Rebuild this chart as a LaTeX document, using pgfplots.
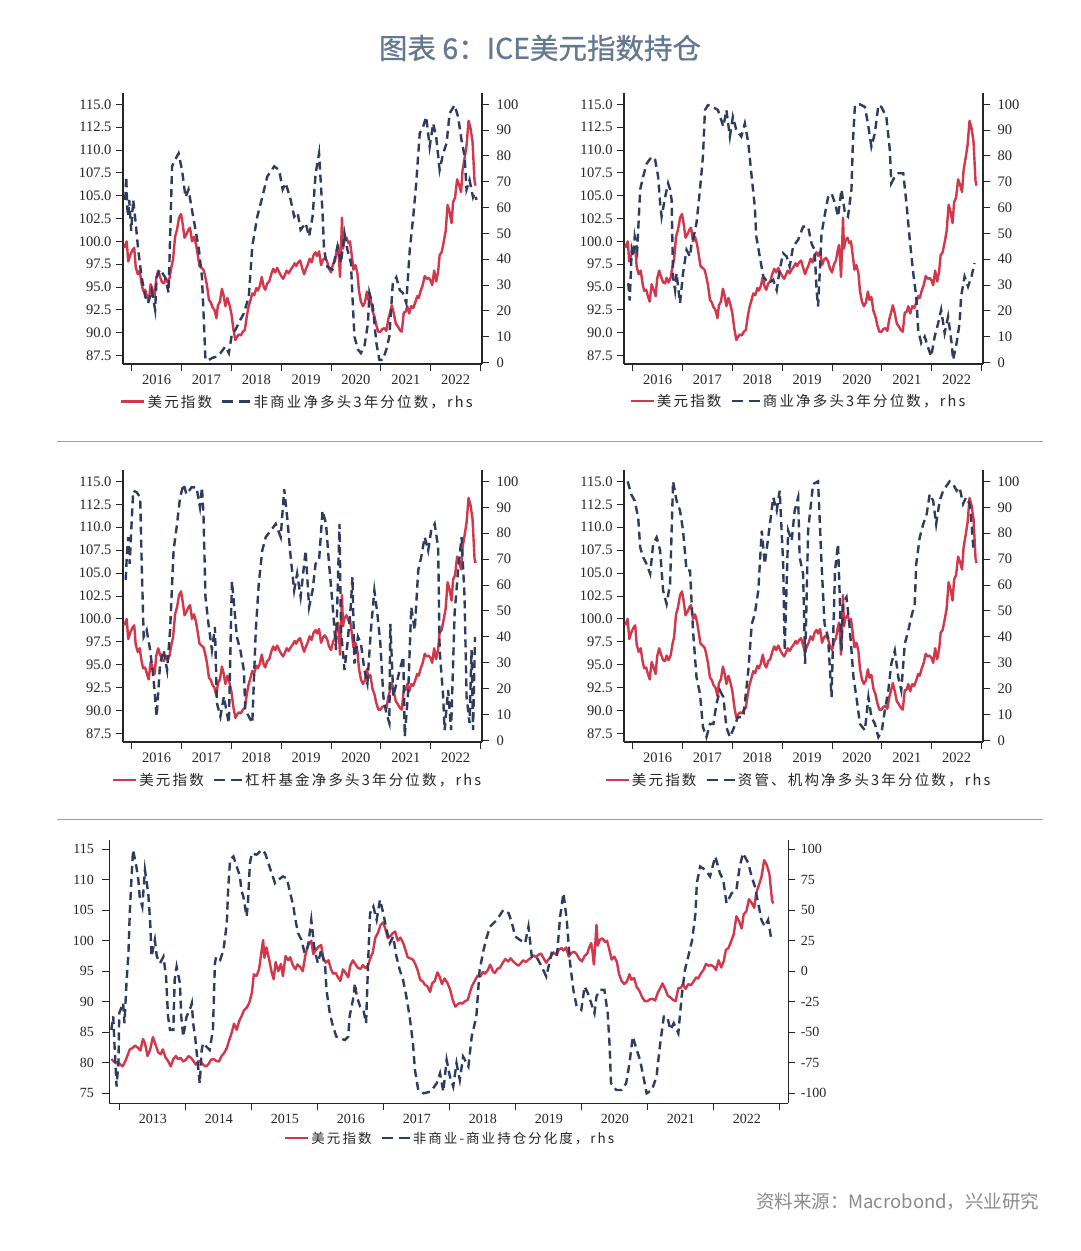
\documentclass[border=0pt]{standalone}
\usepackage{pgfplots}
\pgfplotsset{compat=1.18}
\usepackage{pgfplotstable}
\usepackage{fontspec}
\setmainfont{Liberation Serif}
\newfontfamily\cjk{Noto Sans CJK SC}
\newfontfamily\cjktitle{Noto Sans CJK SC}[FakeBold=0.8]
\newfontfamily\cjkleg{Noto Sans CJK SC}[LetterSpace=15]
\definecolor{usdred}{HTML}{D2374B}
\definecolor{navy}{HTML}{2D3C5F}
\definecolor{titlecol}{HTML}{647891}
\definecolor{srccol}{HTML}{8A8A8A}

\pgfplotstableread{
t v
2012.87 80.6
2012.90 80.3
2012.94 79.9
2012.97 80.1
2013.00 79.8
2013.04 79.4
2013.08 80.2
2013.12 81.3
2013.15 82.2
2013.19 82.4
2013.23 82.8
2013.27 82.5
2013.31 82.0
2013.35 83.9
2013.38 83.2
2013.42 81.1
2013.46 82.2
2013.50 84.2
2013.54 83.0
2013.58 81.7
2013.62 81.4
2013.65 82.2
2013.69 80.9
2013.73 80.3
2013.77 79.4
2013.81 80.6
2013.85 81.1
2013.88 80.6
2013.92 80.8
2013.96 80.2
2014.00 80.5
2014.04 81.1
2014.08 80.8
2014.12 80.2
2014.15 79.7
2014.19 80.3
2014.23 80.1
2014.27 79.6
2014.31 79.4
2014.35 79.9
2014.38 80.5
2014.42 80.6
2014.46 80.3
2014.50 80.2
2014.54 81.1
2014.58 81.6
2014.62 82.4
2014.65 83.5
2014.69 84.8
2014.73 86.4
2014.77 85.4
2014.81 86.9
2014.85 87.8
2014.88 88.6
2014.92 89.0
2014.96 89.8
2015.00 91.5
2015.03 94.5
2015.07 94.2
2015.11 95.4
2015.14 97.8
2015.17 100.1
2015.19 97.2
2015.22 98.9
2015.26 97.0
2015.30 94.8
2015.33 93.7
2015.36 96.5
2015.40 95.0
2015.44 96.2
2015.47 94.2
2015.51 97.5
2015.55 96.8
2015.58 97.3
2015.62 96.0
2015.66 95.3
2015.69 96.1
2015.73 95.7
2015.77 95.0
2015.81 97.6
2015.85 99.3
2015.90 100.0
2015.93 97.8
2015.97 98.5
2016.01 99.0
2016.05 99.3
2016.08 97.2
2016.12 96.4
2016.16 96.8
2016.20 95.3
2016.23 94.6
2016.27 94.7
2016.31 93.9
2016.34 93.4
2016.38 95.3
2016.42 94.7
2016.46 94.0
2016.49 95.9
2016.53 96.8
2016.57 96.1
2016.61 95.5
2016.65 95.4
2016.68 96.0
2016.72 95.5
2016.76 96.0
2016.80 97.3
2016.83 98.0
2016.87 100.5
2016.91 101.3
2016.95 102.6
2016.99 103.0
2017.02 102.0
2017.06 100.4
2017.10 100.8
2017.14 101.3
2017.17 101.5
2017.21 100.0
2017.25 100.5
2017.29 99.7
2017.32 98.7
2017.36 97.3
2017.40 97.1
2017.44 96.9
2017.47 96.3
2017.51 95.2
2017.55 93.6
2017.59 93.3
2017.62 92.8
2017.66 92.5
2017.70 91.6
2017.73 93.0
2017.77 93.4
2017.81 94.8
2017.84 94.2
2017.88 92.9
2017.92 93.8
2017.96 93.1
2018.00 92.1
2018.04 90.4
2018.08 89.2
2018.12 89.6
2018.15 89.8
2018.19 89.7
2018.23 90.1
2018.27 90.3
2018.31 91.8
2018.34 92.7
2018.38 93.5
2018.42 94.3
2018.46 94.1
2018.50 94.9
2018.53 94.6
2018.57 95.1
2018.61 96.1
2018.65 95.0
2018.68 94.7
2018.72 95.4
2018.76 95.6
2018.80 96.4
2018.84 97.0
2018.88 96.6
2018.92 97.1
2018.96 96.6
2019.00 96.2
2019.04 95.9
2019.08 96.4
2019.11 96.8
2019.15 96.5
2019.19 96.9
2019.23 97.2
2019.27 97.6
2019.30 97.3
2019.34 97.7
2019.38 97.9
2019.42 97.1
2019.46 96.4
2019.49 96.9
2019.53 97.4
2019.57 98.1
2019.61 97.7
2019.65 98.5
2019.69 98.8
2019.72 98.4
2019.76 98.9
2019.80 97.4
2019.84 98.0
2019.88 98.2
2019.92 97.8
2019.96 97.0
2020.00 96.6
2020.04 97.5
2020.08 97.9
2020.11 98.9
2020.14 99.6
2020.16 98.2
2020.18 96.1
2020.20 99.0
2020.22 102.6
2020.24 99.2
2020.27 100.1
2020.31 100.4
2020.35 99.8
2020.38 100.0
2020.42 98.3
2020.45 96.9
2020.49 97.4
2020.53 96.5
2020.56 94.6
2020.60 93.4
2020.64 92.9
2020.68 93.3
2020.72 94.5
2020.75 93.6
2020.79 93.9
2020.83 92.4
2020.87 91.8
2020.91 90.8
2020.95 90.1
2020.99 90.1
2021.03 90.4
2021.07 90.5
2021.11 90.2
2021.15 91.5
2021.19 92.3
2021.22 93.0
2021.26 92.1
2021.30 91.0
2021.34 90.7
2021.38 90.3
2021.42 90.1
2021.46 92.2
2021.50 92.3
2021.53 92.9
2021.57 92.1
2021.61 92.9
2021.65 92.7
2021.69 93.3
2021.73 94.0
2021.76 93.8
2021.80 94.6
2021.84 95.2
2021.88 96.2
2021.92 95.9
2021.96 96.0
2022.00 95.7
2022.03 95.2
2022.07 96.8
2022.11 95.6
2022.15 96.7
2022.18 98.5
2022.22 98.8
2022.26 99.9
2022.30 101.1
2022.34 104.0
2022.38 103.2
2022.42 102.0
2022.45 104.3
2022.49 104.8
2022.53 106.8
2022.57 106.2
2022.61 105.4
2022.64 107.8
2022.68 109.1
2022.72 110.5
2022.76 113.2
2022.80 112.4
2022.84 110.9
2022.88 106.6
2022.90 106.1
}\dxy

\pgfplotstableread{
t v
2015.87 63
2015.89 72
2015.91 60
2015.93 56.5
2015.95 63
2015.99 51
2016.03 63
2016.08 54
2016.13 43.6
2016.20 33
2016.27 25.5
2016.33 23
2016.40 28
2016.47 20.4
2016.50 33
2016.57 36
2016.67 33
2016.74 27
2016.81 76
2016.87 78.5
2016.94 81
2017.01 74.5
2017.08 64
2017.14 67
2017.21 59
2017.28 51.4
2017.35 43.6
2017.41 33
2017.45 15
2017.48 1
2017.55 1
2017.61 1.7
2017.71 2.3
2017.78 3.6
2017.88 6.2
2017.95 3.6
2018.01 11
2018.08 12.6
2018.18 16.5
2018.25 19
2018.35 25.5
2018.42 45
2018.52 56.5
2018.62 64
2018.72 72
2018.86 76
2018.96 74.5
2019.03 67
2019.09 69.5
2019.19 63
2019.26 56.5
2019.33 58
2019.39 51.4
2019.49 54
2019.56 48.8
2019.63 56.5
2019.69 73
2019.76 81
2019.83 58
2019.86 43.6
2019.93 37
2020.03 36
2020.13 45
2020.20 38.5
2020.27 50
2020.33 43.6
2020.40 38.5
2020.43 25.5
2020.47 10
2020.54 5
2020.60 3.6
2020.67 6.2
2020.74 15
2020.77 27
2020.84 21.7
2020.91 7.5
2020.97 1
2021.04 1
2021.11 5
2021.17 10
2021.24 30.7
2021.31 33
2021.38 28
2021.44 27
2021.51 23
2021.58 43.6
2021.65 56.5
2021.71 69.5
2021.78 88.8
2021.85 91.4
2021.91 95.2
2021.98 83.6
2022.05 92.6
2022.11 87.5
2022.18 74.6
2022.25 81
2022.32 85
2022.38 96.5
2022.48 99.7
2022.55 95.2
2022.62 86
2022.68 80
2022.72 67
2022.78 70.7
2022.85 64
2022.88 65.5
2022.92 63
}\nc

\pgfplotstableread{
t v
2015.91 30.7
2015.94 24
2015.98 43.6
2016.01 41
2016.04 48.8
2016.09 43.6
2016.15 67
2016.21 72
2016.28 77
2016.38 79.7
2016.45 78.5
2016.51 72
2016.55 61.7
2016.58 56.5
2016.65 64
2016.71 69.4
2016.75 67
2016.78 63
2016.81 33
2016.85 28
2016.88 34.6
2016.91 29.4
2016.95 23
2017.01 34.6
2017.08 43.6
2017.15 41
2017.18 46
2017.21 47.5
2017.28 54
2017.35 67
2017.41 80
2017.45 97.8
2017.51 99.7
2017.61 99
2017.71 97.8
2017.82 91.4
2017.88 97.8
2017.95 87.5
2018.01 95.2
2018.08 90
2018.18 87.5
2018.25 92.6
2018.32 85
2018.38 73.3
2018.45 60.4
2018.48 48.8
2018.55 41
2018.62 33.3
2018.72 30.7
2018.82 32
2018.89 28
2018.95 36
2019.02 42.3
2019.09 41
2019.15 37.2
2019.22 45
2019.32 47.5
2019.42 52.6
2019.52 52.6
2019.59 46
2019.65 43.6
2019.69 28
2019.72 21.7
2019.76 37.2
2019.79 50
2019.86 57.8
2019.92 64
2019.99 65.5
2020.06 61.7
2020.12 56.5
2020.19 67
2020.26 57.8
2020.32 56.5
2020.39 67
2020.42 86
2020.46 99.7
2020.56 100
2020.66 99
2020.72 92.6
2020.79 83.6
2020.86 88.8
2020.93 99.7
2020.99 99
2021.09 95.2
2021.16 82.3
2021.19 69.4
2021.26 72
2021.33 73.3
2021.43 73.3
2021.50 60.4
2021.56 47.5
2021.63 34.6
2021.69 25.5
2021.73 12.6
2021.79 7.5
2021.86 10
2021.92 6.2
2021.99 2.3
2022.06 10
2022.13 15.2
2022.19 20.4
2022.26 11.4
2022.33 17.8
2022.40 7.5
2022.43 1
2022.50 7.5
2022.56 15.2
2022.59 25.5
2022.66 33.3
2022.73 29.4
2022.80 33.3
2022.86 38.5
}\com

\pgfplotstableread{
t v
2015.88 62
2015.90 70.8
2015.93 78.5
2015.96 68.2
2015.99 81
2016.03 96.4
2016.10 95.8
2016.17 93.8
2016.20 68.2
2016.24 40
2016.30 42.6
2016.37 34.9
2016.44 23.3
2016.50 9.2
2016.57 29.7
2016.64 34.9
2016.71 27.2
2016.77 42.6
2016.84 73.3
2016.91 83.6
2016.97 93.8
2017.04 99
2017.10 95
2017.20 97.7
2017.30 97.7
2017.37 90
2017.41 97.7
2017.44 87.4
2017.48 55.4
2017.54 45
2017.61 34.9
2017.67 43.8
2017.71 14.4
2017.78 9.2
2017.85 17
2017.91 10.5
2017.95 6.7
2018.01 61.5
2018.04 55.4
2018.11 40
2018.18 34.9
2018.25 27.2
2018.28 11.8
2018.35 9.2
2018.42 6.7
2018.49 42.6
2018.55 60.5
2018.62 73.3
2018.69 78.5
2018.79 81
2018.89 83.6
2018.99 78.5
2019.06 97
2019.12 86.2
2019.19 70.8
2019.26 57.9
2019.32 64.4
2019.39 55.4
2019.49 73.3
2019.56 51.5
2019.63 57.9
2019.69 68.2
2019.76 69.5
2019.83 88.7
2019.90 83.6
2019.96 68.2
2020.03 52.8
2020.10 34.9
2020.17 83.6
2020.20 42.6
2020.27 27.2
2020.33 37.4
2020.40 52.8
2020.43 63
2020.47 29.7
2020.54 40
2020.60 37.4
2020.67 27.2
2020.73 22
2020.80 42.6
2020.87 57.9
2020.93 49
2020.99 37.4
2021.05 17
2021.11 10.5
2021.17 6.7
2021.19 45
2021.25 17
2021.38 27.2
2021.45 32.3
2021.48 1.5
2021.55 19.3
2021.61 51.5
2021.68 42.6
2021.75 65.6
2021.81 70.8
2021.88 78.5
2021.95 73.3
2022.01 81
2022.08 83.6
2022.15 74.6
2022.18 34.9
2022.25 17
2022.28 4
2022.35 19.5
2022.41 4
2022.48 49
2022.55 65.6
2022.62 78.5
2022.68 55.4
2022.72 17
2022.78 6.7
2022.82 34.9
2022.85 4
2022.89 40
}\lev

\pgfplotstableread{
t v
2015.90 100
2015.97 95
2016.04 92.5
2016.11 86
2016.15 74.5
2016.21 70.7
2016.28 68
2016.35 64.3
2016.41 75.8
2016.48 78.4
2016.55 73.3
2016.61 57.8
2016.68 52.7
2016.75 60.4
2016.81 100
2016.88 92.5
2016.95 88.7
2017.01 81
2017.08 65.6
2017.15 65.6
2017.21 42.4
2017.28 24.4
2017.35 18
2017.41 5.1
2017.48 1.3
2017.55 6.4
2017.62 6.4
2017.68 14.1
2017.75 19.3
2017.82 16.7
2017.88 5.1
2017.95 1.3
2018.01 3.9
2018.11 9
2018.22 9
2018.32 27
2018.39 45
2018.45 48.8
2018.52 57.8
2018.59 81
2018.65 68.1
2018.72 78.4
2018.82 93.8
2018.89 88.7
2018.95 96.4
2019.02 68.1
2019.05 34.7
2019.12 81
2019.19 77.1
2019.25 88.7
2019.32 93.8
2019.35 70.7
2019.42 64.3
2019.46 29.6
2019.49 55.3
2019.52 81
2019.62 99
2019.72 100
2019.79 68.1
2019.85 45
2019.92 39.8
2019.99 16.7
2020.06 65.6
2020.12 75.8
2020.19 34.7
2020.22 52.7
2020.29 55.3
2020.36 42.4
2020.43 24.4
2020.49 16.7
2020.56 6.4
2020.66 3.9
2020.73 16.7
2020.79 9
2020.86 6.4
2020.93 1.3
2021.00 3.9
2021.06 11.6
2021.13 19.3
2021.19 29.6
2021.26 34.7
2021.33 24.4
2021.39 19.3
2021.46 37.3
2021.53 42.4
2021.59 47.6
2021.66 52.7
2021.69 68.1
2021.76 78.4
2021.83 83.5
2021.90 87.4
2021.96 95.1
2022.03 92.5
2022.09 83.5
2022.16 92.5
2022.23 96.4
2022.36 100
2022.43 99
2022.50 96.4
2022.56 97.7
2022.63 91.3
2022.69 93.8
2022.76 91.3
2022.79 86.1
2022.84 73.3
}\am

\pgfplotstableread{
t v
2012.87 -48
2012.90 -37
2012.92 -61.7
2012.95 -94.5
2012.98 -72.7
2012.99 -34.4
2013.05 -26
2013.07 -42.6
2013.10 -9.8
2013.13 14.8
2013.15 47.5
2013.18 80.3
2013.20 99.5
2013.25 85.8
2013.28 74.9
2013.30 61.2
2013.34 53
2013.38 83
2013.43 64
2013.46 39.3
2013.48 12
2013.53 25.7
2013.56 12
2013.61 6.6
2013.66 12
2013.70 -4.4
2013.73 -37.2
2013.76 -48
2013.81 -48
2013.83 -7.1
2013.86 3.8
2013.91 -9.8
2013.93 -37.2
2013.96 -53.6
2014.01 -37.2
2014.06 -31.7
2014.09 -26.2
2014.11 -42.6
2014.14 -53.6
2014.16 -64.5
2014.19 -80.9
2014.21 -91.8
2014.24 -64.5
2014.26 -59
2014.31 -61.7
2014.36 -64.5
2014.41 -48
2014.44 6.6
2014.46 12
2014.52 9.3
2014.57 17.5
2014.62 39.3
2014.64 66.7
2014.67 91.3
2014.72 94
2014.77 85.8
2014.82 77.6
2014.84 66.7
2014.87 61.2
2014.92 44.8
2014.94 55.7
2014.97 88.5
2015.00 96.7
2015.07 95.4
2015.15 99.5
2015.20 96.7
2015.25 88.5
2015.30 80.3
2015.35 72.1
2015.40 74.9
2015.47 77.6
2015.53 76.2
2015.58 64
2015.63 53
2015.65 44.8
2015.70 31.1
2015.75 25.7
2015.80 14.8
2015.85 20.2
2015.90 42
2015.95 17.5
2016.00 6.6
2016.05 17.5
2016.11 3.8
2016.13 -15.3
2016.18 -34.4
2016.23 -45.4
2016.28 -53.6
2016.33 -55
2016.41 -56.3
2016.46 -53.6
2016.48 -37.2
2016.54 -20.8
2016.56 -9.8
2016.59 -20.8
2016.64 -29
2016.69 -31.7
2016.73 -42.6
2016.76 6.6
2016.79 47.5
2016.84 53
2016.89 42
2016.94 58.5
2016.99 47.5
2017.04 33.9
2017.09 23
2017.14 28.4
2017.19 12
2017.24 1.1
2017.29 -7.1
2017.34 -20.8
2017.39 -37.2
2017.44 -59
2017.47 -80.9
2017.52 -97.3
2017.60 -100
2017.71 -98.6
2017.80 -91.8
2017.85 -83.6
2017.90 -98.6
2017.95 -72.7
2018.00 -86.3
2018.05 -94.5
2018.10 -75.4
2018.15 -89.1
2018.20 -70
2018.28 -78.1
2018.33 -53.6
2018.40 -37.2
2018.45 1.1
2018.51 17.5
2018.56 28.4
2018.61 36.6
2018.71 42
2018.81 50.3
2018.89 47.5
2018.94 39.3
2018.99 28.4
2019.06 25.7
2019.14 23
2019.19 36.6
2019.24 12
2019.31 12
2019.39 3.8
2019.46 -4.4
2019.54 14.8
2019.62 12
2019.67 44.8
2019.72 64
2019.77 42
2019.82 6.6
2019.87 -15.3
2019.92 -29
2019.99 -31.7
2020.04 -12.6
2020.09 -18
2020.14 -26.2
2020.19 -34.4
2020.22 -20.8
2020.27 -15.3
2020.34 -15.3
2020.39 -34.4
2020.42 -61.7
2020.44 -91.8
2020.52 -97.3
2020.60 -97.3
2020.67 -91.8
2020.72 -75.4
2020.77 -53.6
2020.83 -64.5
2020.88 -72.7
2020.93 -86.3
2020.98 -100
2021.06 -97.3
2021.13 -86.3
2021.18 -61.7
2021.24 -37.2
2021.29 -37.2
2021.34 -48
2021.39 -42.6
2021.46 -50.8
2021.51 -20.8
2021.56 1.1
2021.61 12
2021.67 25.7
2021.72 47.5
2021.74 72
2021.79 85.8
2021.87 83
2021.94 77.6
2022.02 94
2022.09 80.3
2022.14 74.9
2022.19 55.7
2022.27 64
2022.34 66.7
2022.39 85.8
2022.44 96.7
2022.52 88.5
2022.57 77.6
2022.62 69.4
2022.67 55.7
2022.72 42
2022.77 36.6
2022.82 42
2022.87 25.7
}\diff

\pgfplotsset{
  base/.style={
    scale only axis, anchor=south west,
    axis line style={line width=1.1pt, black!85},
    tick style={line width=1pt, black!85},
    major tick length=7pt,
    ticklabel style={font=\fontsize{14.5}{16}\selectfont, text=black!85},
    /pgf/number format/assume math mode=true,
  },
  lefttop/.style={base,
    width=359pt, height=271pt,
    xmin=2015.825, xmax=2023.03, ymin=86.57, ymax=116.25,
    axis x line*=bottom, axis y line*=left, tick align=outside,
    xtick={2016,2017,2018,2019,2020,2021,2022,2023},
    xticklabels={2016,2017,2018,2019,2020,2021,2022,{}},
    xticklabel style={xshift=24.9pt},
    ytick={87.5,90,92.5,95,97.5,100,102.5,105,107.5,110,112.5,115},
    yticklabel style={xshift=-1pt, /pgf/number format/.cd, fixed, fixed zerofill, precision=1},
  },
  righttop/.style={base,
    width=359pt, height=271pt,
    xmin=2015.825, xmax=2023.03, ymin=-0.6, ymax=104.4,
    axis x line=none, axis y line*=right, tick align=outside,
    ytick={0,10,...,100},
    yticklabel style={xshift=4pt},
    legend style={draw=none, fill=none, legend columns=-1, anchor=center,
      font=\cjkleg\fontsize{14.5}{17}\selectfont, text=black!85,
      /tikz/every even column/.append style={column sep=7pt},
      nodes={inner sep=2pt}},
  },
  usd/.style={usdred, line width=2.4pt, line join=round},
  pos/.style={navy, line width=2.4pt, dash pattern=on 8pt off 5pt},
  redimg/.style={usd, legend image code/.code={\draw[##1] (0pt,0pt) -- (23pt,0pt);}},
  dashimg/.style={legend image code/.code={\draw[##1, dash pattern=on 11pt off 6pt] (0pt,0pt) -- (28pt,0pt);}},
}

\begin{document}
\begin{tikzpicture}[x=1pt,y=1pt]
\fill[white] (0pt,0pt) rectangle (1080pt,1251pt);
\path[use as bounding box] (0pt,0pt) rectangle (1080pt,1251pt);

\node[font=\cjktitle\fontsize{28.5}{32}\selectfont, text=titlecol] at (540pt,1203pt) {图表 6：ICE美元指数持仓};

% ---------- Panel 1 ----------
\begin{axis}[lefttop, at={(123pt,887pt)}]
\addplot[usd, restrict x to domain=2015.84:2024] table[x=t,y=v] {\dxy};
\end{axis}
\begin{axis}[righttop, at={(123pt,887pt)}, legend style={at={(0.486,-0.139)}}]
\addlegendimage{redimg}
\addlegendentry{美元指数}
\addplot[pos, dashimg] table[x=t,y=v] {\nc};
\addlegendentry{非商业净多头3年分位数，rhs}
\end{axis}

% ---------- Panel 2 ----------
\begin{axis}[lefttop, at={(624pt,887pt)}]
\addplot[usd, restrict x to domain=2015.84:2024] table[x=t,y=v] {\dxy};
\end{axis}
\begin{axis}[righttop, at={(624pt,887pt)}, legend style={at={(0.486,-0.137)}}]
\addlegendimage{redimg}
\addlegendentry{美元指数}
\addplot[pos, dashimg] table[x=t,y=v] {\com};
\addlegendentry{商业净多头3年分位数，rhs}
\end{axis}

% ---------- Panel 3 ----------
\begin{axis}[lefttop, at={(123pt,509pt)}, height=272pt]
\addplot[usd, restrict x to domain=2015.84:2024] table[x=t,y=v] {\dxy};
\end{axis}
\begin{axis}[righttop, at={(123pt,509pt)}, height=272pt, legend style={at={(0.486,-0.14)}}]
\addlegendimage{redimg}
\addlegendentry{美元指数}
\addplot[pos, dashimg] table[x=t,y=v] {\lev};
\addlegendentry{杠杆基金净多头3年分位数，rhs}
\end{axis}

% ---------- Panel 4 ----------
\begin{axis}[lefttop, at={(624pt,509pt)}, height=272pt]
\addplot[usd, restrict x to domain=2015.84:2024] table[x=t,y=v] {\dxy};
\end{axis}
\begin{axis}[righttop, at={(624pt,509pt)}, height=272pt, legend style={at={(0.486,-0.14)}}]
\addlegendimage{redimg}
\addlegendentry{美元指数}
\addplot[pos, dashimg] table[x=t,y=v] {\am};
\addlegendentry{资管、机构净多头3年分位数，rhs}
\end{axis}

% ---------- Panel 5 ----------
\begin{axis}[base, at={(109.3pt,147.7pt)}, width=679pt, height=263.3pt,
    xmin=2012.84, xmax=2023.126, ymin=73.36, ymax=116.5,
    axis x line*=bottom, axis y line*=left, tick align=outside,
    ticklabel style={font=\fontsize{14}{16}\selectfont},
    xtick={2013,2014,2015,2016,2017,2018,2019,2020,2021,2022,2023},
    xticklabels={2013,2014,2015,2016,2017,2018,2019,2020,2021,2022,{}},
    xticklabel style={xshift=33pt},
    yticklabel style={xshift=-5pt},
    ytick={75,80,...,115}]
\addplot[usd] table[x=t,y=v] {\dxy};
\end{axis}
\begin{axis}[base, at={(109.3pt,147.7pt)}, width=679pt, height=263.3pt,
    xmin=2012.84, xmax=2023.126, ymin=-108.2, ymax=107.5,
    axis x line=none, axis y line*=right, tick align=outside,
    ticklabel style={font=\fontsize{14}{16}\selectfont},
    yticklabel style={xshift=2pt},
    ytick={-100,-75,...,100},
    legend style={draw=none, fill=none, legend columns=-1, anchor=center,
      at={(0.502,-0.132)},
      font=\cjkleg\fontsize{13.5}{16}\selectfont, text=black!85,
      /tikz/every even column/.append style={column sep=7pt},
      nodes={inner sep=2pt}}]
\addlegendimage{redimg}
\addlegendentry{美元指数}
\addplot[pos, dashimg] table[x=t,y=v] {\diff};
\addlegendentry{非商业-商业持仓分化度，rhs}
\end{axis}

% separators
\draw[gray!75, line width=1.3pt] (57pt,809.3pt) -- (1043pt,809.3pt);
\draw[gray!75, line width=1.3pt] (57pt,431.7pt) -- (1043pt,431.7pt);

\node[anchor=east, font=\cjk\fontsize{18.5}{21}\selectfont, text=srccol] at (1043pt,49pt) {资料来源：Macrobond，兴业研究};
\end{tikzpicture}
\end{document}
